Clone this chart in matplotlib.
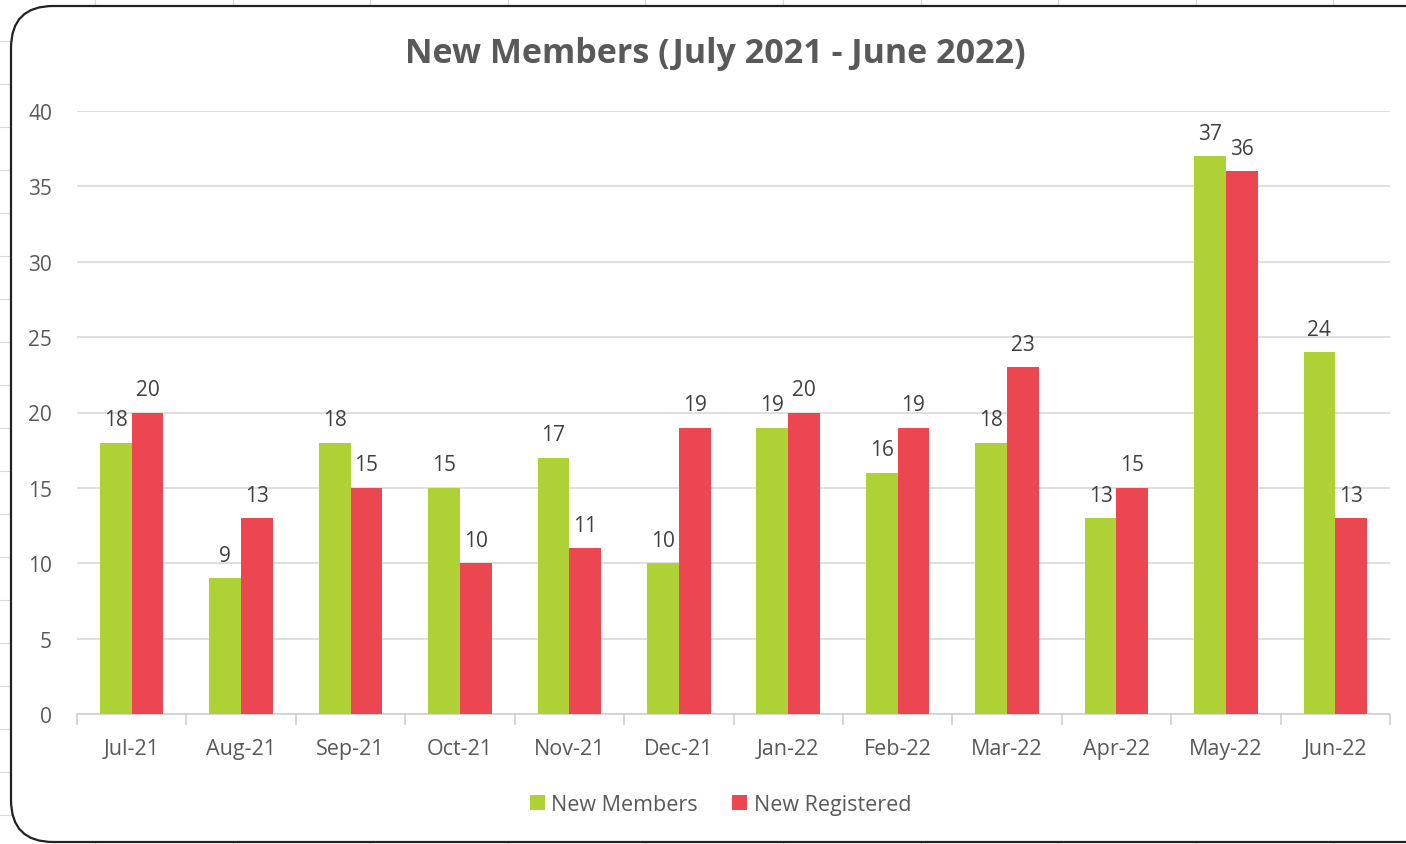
import matplotlib.pyplot as plt
import numpy as np
from matplotlib.patches import FancyBboxPatch
from matplotlib.lines import Line2D

plt.rcParams['font.family'] = ['Open Sans', 'DejaVu Sans']

months = ["Jul-21", "Aug-21", "Sep-21", "Oct-21", "Nov-21", "Dec-21",
          "Jan-22", "Feb-22", "Mar-22", "Apr-22", "May-22", "Jun-22"]
new_members = [18, 9, 18, 15, 17, 10, 19, 16, 18, 13, 37, 24]
new_registered = [20, 13, 15, 10, 11, 19, 20, 19, 23, 15, 36, 13]

green = "#AED136"
red = "#EC4651"
txt = "#595959"

W, H = 1406, 845
fig = plt.figure(figsize=(W / 100, H / 100), dpi=100)

# spreadsheet cells behind the chart
for x in np.arange(95, W, 137.6):
    fig.add_artist(Line2D([x / W, x / W], [0, 1], color="#DADADA", lw=0.8, zorder=0))
for y in np.arange(42, H, 43):
    fig.add_artist(Line2D([0, 1], [1 - y / H, 1 - y / H], color="#DADADA", lw=0.8, zorder=0))

# chart area with rounded border
box = FancyBboxPatch((11 / W, 2 / H), (W + 40) / W, (H - 9) / H,
                     boxstyle="round,pad=0,rounding_size=0.03",
                     transform=fig.transFigure, facecolor="white",
                     edgecolor="#222222", lw=1.6, zorder=1,
                     mutation_aspect=W / H)
fig.add_artist(box)

ax = fig.add_axes([77 / W, 1 - 715 / H, (1390 - 77) / W, (715 - 112) / H])
ax.set_zorder(2)
ax.patch.set_alpha(0)

x = np.arange(len(months))
w = 0.29
b1 = ax.bar(x - w / 2, new_members, w, color=green, label="New Members", zorder=3)
b2 = ax.bar(x + w / 2, new_registered, w, color=red, label="New Registered", zorder=3)
for bars in (b1, b2):
    ax.bar_label(bars, padding=9, fontsize=15, color="#404040")

ax.set_xlim(-0.5, len(months) - 0.5)
ax.set_ylim(0, 40)
ax.set_yticks(range(0, 41, 5))
ax.grid(axis="y", color="#D9D9D9", lw=1.2, zorder=0)
ax.set_axisbelow(True)
for s in ("top", "right", "left"):
    ax.spines[s].set_visible(False)
ax.spines["bottom"].set_color("#D0D0D0")
ax.spines["bottom"].set_linewidth(1.2)

ax.set_xticks(x)
ax.set_xticklabels(months, fontsize=15.5, color=txt)
ax.tick_params(axis="x", length=0, pad=17)
ax.set_xticks(np.arange(-0.5, len(months)), minor=True)
ax.tick_params(axis="x", which="minor", length=8, color="#D0D0D0", width=1.2)
ax.tick_params(axis="y", length=0, labelsize=15, labelcolor=txt, pad=18)

fig.text(715 / W, 1 - 54 / H, "New Members (July 2021 - June 2022)",
         ha="center", va="center", fontsize=24.5, fontweight="bold", color=txt)

ax.legend(loc="center", bbox_to_anchor=(0.49, -0.15), ncol=2, frameon=False,
          fontsize=15.5, labelcolor=txt, handlelength=0.7, handleheight=0.7,
          handletextpad=0.3, columnspacing=1.6)

fig.savefig("out.png", dpi=100)
